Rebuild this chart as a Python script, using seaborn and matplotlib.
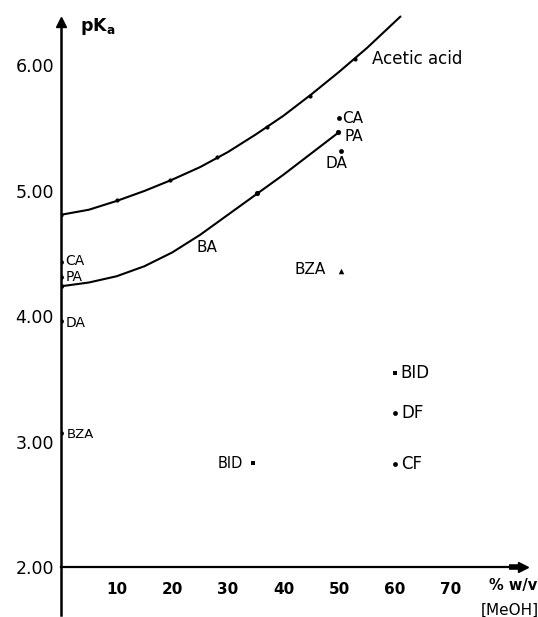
import matplotlib
matplotlib.use("Agg")
import matplotlib.pyplot as plt
import seaborn as sns
import pandas as pd
import numpy as np

# ---- data ----
acetic_x = [0, 5, 10, 15, 20, 25, 30, 35, 40, 45, 50, 55, 61]
acetic_y = [4.81, 4.85, 4.92, 5.00, 5.09, 5.19, 5.31, 5.45, 5.60, 5.77, 5.95, 6.14, 6.39]
acetic_pts_x = [0, 10, 19.6, 28, 37, 44.7, 52.8]
acetic_pts_y = [4.81, 4.93, 5.09, 5.27, 5.51, 5.76, 6.05]

ba_x = [0, 5, 10, 15, 20, 25, 30, 35, 40, 45, 50]
ba_y = [4.24, 4.27, 4.32, 4.40, 4.51, 4.65, 4.81, 4.97, 5.13, 5.30, 5.47]
ba_pts_x = [0, 35.2, 49.7]
ba_pts_y = [4.24, 4.98, 5.47]

dot_names = ["CA", "PA", "DA", "BZA", "CA", "DA", "DF", "CF"]
dot_x = [0, 0, 0, 0, 49.9, 50.3, 60, 60]
dot_y = [4.43, 4.31, 3.96, 3.07, 5.58, 5.32, 3.23, 2.82]

bza_x, bza_y = [50.3], [4.36]
bid_x, bid_y = [60, 34.5], [3.55, 2.83]

y_ticks = [2.0, 3.0, 4.0, 5.0, 6.0]
y_tick_labels = ["2.00", "3.00", "4.00", "5.00", "6.00"]
x_ticks = [10, 20, 30, 40, 50, 60, 70]
x_tick_labels = ["10", "20", "30", "40", "50", "60", "70"]

sns.set_theme(style="white")
plt.rcParams["font.family"] = ["DejaVu Sans"]
plt.rcParams["text.color"] = "black"
plt.rcParams["axes.labelcolor"] = "black"
plt.rcParams["xtick.color"] = "black"
plt.rcParams["ytick.color"] = "black"
plt.rcParams["axes.edgecolor"] = "black"

fig = plt.figure(figsize=(5.38, 6.17), dpi=100)
ax = fig.add_axes([61 / 538, 2 / 617, 473 / 538, 606 / 617])
ax.set_xlim(0, 85)
ax.set_ylim(1.62, 6.45)

df_ac = pd.DataFrame({"x": acetic_x, "y": acetic_y})
df_ba = pd.DataFrame({"x": ba_x, "y": ba_y})
sns.lineplot(data=df_ac, x="x", y="y", ax=ax, color="black", lw=1.5, sort=False)
sns.lineplot(data=df_ba, x="x", y="y", ax=ax, color="black", lw=1.5, sort=False)
sns.scatterplot(x=acetic_pts_x, y=acetic_pts_y, ax=ax, color="black", s=9, marker="o", linewidth=0)
sns.scatterplot(x=ba_pts_x, y=ba_pts_y, ax=ax, color="black", s=14, marker="o", linewidth=0)
sns.scatterplot(x=dot_x, y=dot_y, ax=ax, color="black", s=12, marker="o", linewidth=0)
sns.scatterplot(x=bza_x, y=bza_y, ax=ax, color="black", s=16, marker="^", linewidth=0)
sns.scatterplot(x=bid_x, y=bid_y, ax=ax, color="black", s=10, marker="s", linewidth=0)

# axes
for s in ["top", "right"]:
    ax.spines[s].set_visible(False)
ax.spines["left"].set_position(("data", 0))
ax.spines["bottom"].set_position(("data", 2.0))
ax.spines["left"].set_linewidth(1.8)
ax.spines["bottom"].set_linewidth(1.6)
ax.spines["left"].set_color("black")
ax.spines["bottom"].set_color("black")
ax.spines["left"].set_bounds(1.62, 6.33)
ax.spines["bottom"].set_bounds(0, 82.5)
ax.plot([0], [6.35], marker="^", color="black", markersize=7, clip_on=False)
ax.plot([83], [2.0], marker=">", color="black", markersize=7, clip_on=False)
ax.plot([80.5, 83], [2.0, 2.0], color="black", lw=4, solid_capstyle="butt")

ax.set_yticks(y_ticks)
ax.set_yticklabels(y_tick_labels, fontsize=12.5)
ax.set_xticks(x_ticks)
ax.set_xticklabels(x_tick_labels, fontsize=11, fontweight="bold")
ax.set_yticks(np.arange(2.2, 6.3, 0.2), minor=True)
ax.set_xticks(np.arange(5, 80, 5), minor=True)
ax.tick_params(axis="y", which="major", direction="inout", length=6, width=1.2, pad=2, colors="black")
ax.tick_params(axis="y", which="minor", direction="inout", length=3, width=0.8, colors="black")
ax.tick_params(axis="x", which="major", direction="inout", length=5, width=1.2, pad=8, colors="black")
ax.tick_params(axis="x", which="minor", direction="inout", length=3, width=0.8, colors="black")
ax.set_xlabel("")
ax.set_ylabel("")
ax.grid(False)

ax.text(3.4, 6.31, r"pK$_\mathregular{a}$", fontsize=12.5, fontweight="bold", va="center", ha="left", color="black")
ax.text(85.5, 1.855, "% w/v", fontsize=10.5, fontweight="bold", va="center", ha="right", clip_on=False, color="black")
ax.text(85.8, 1.66, "[MeOH]", fontsize=11, va="center", ha="right", clip_on=False, color="black")

labels = [
    ("Acetic acid", 55.8, 6.05, 12),
    ("BA", 24.4, 4.55, 11),
    ("CA", 50.6, 5.58, 11),
    ("PA", 51.0, 5.43, 11),
    ("DA", 47.6, 5.22, 11),
    ("CA", 0.7, 4.44, 10),
    ("PA", 0.9, 4.31, 10),
    ("DA", 0.9, 3.95, 10),
    ("BZA", 1.1, 3.06, 9.5),
    ("BZA", 42.0, 4.37, 11),
    ("BID", 28.2, 2.83, 10.5),
    ("BID", 60.9, 3.55, 12),
    ("DF", 61.1, 3.23, 12),
    ("CF", 61.1, 2.82, 12),
]
for t, x, y, fs in labels:
    ax.text(x, y, t, fontsize=fs, va="center", ha="left", color="black")

fig.savefig("out.png", dpi=100)
